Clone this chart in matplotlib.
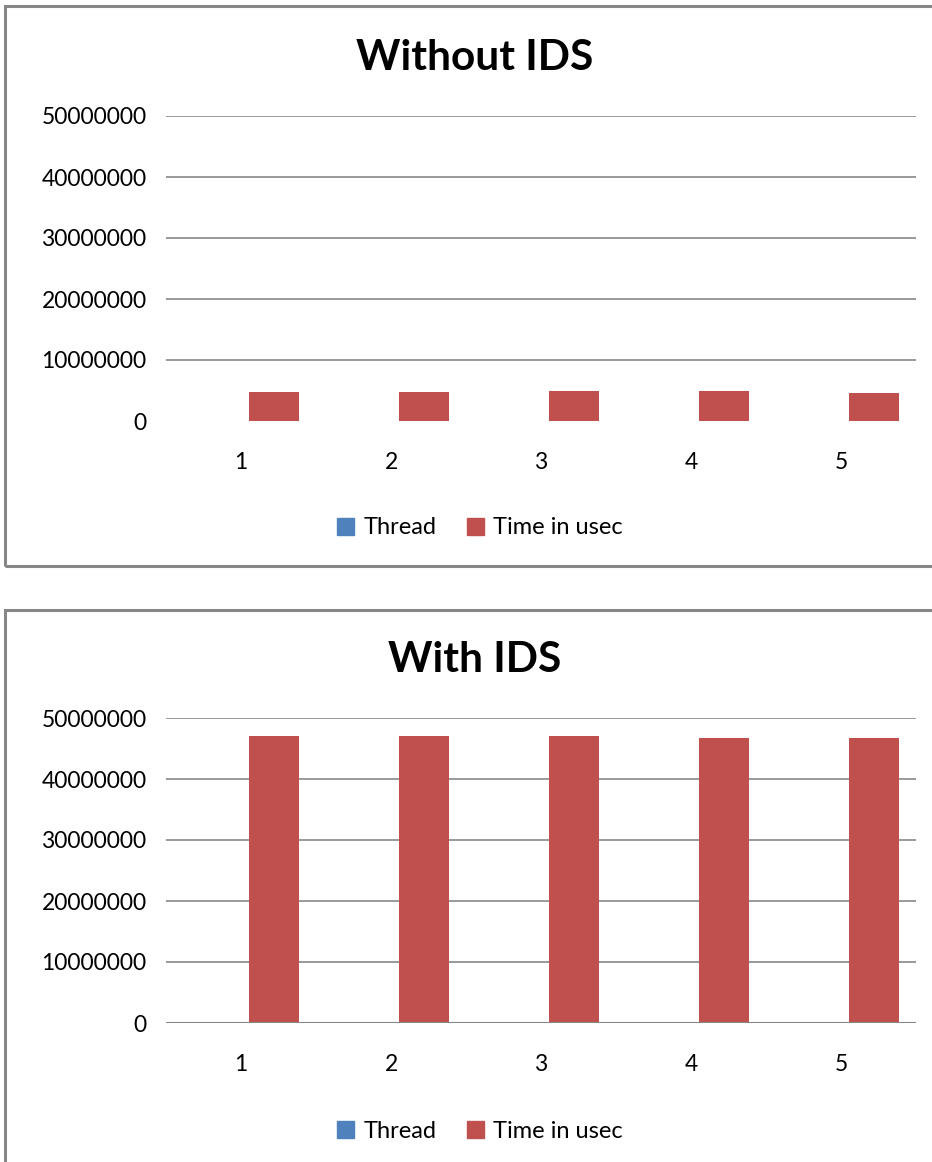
import matplotlib
matplotlib.use("Agg")
import matplotlib.pyplot as plt
from matplotlib.patches import Rectangle, Patch
import numpy as np

plt.rcParams['font.family'] = ['Lato', 'DejaVu Sans']

categories = ['1', '2', '3', '4', '5']
thread = [1, 2, 3, 4, 5]
time_without = [4750000, 4750000, 4850000, 4900000, 4600000]
time_with = [47100000, 47100000, 47100000, 46800000, 46800000]
yticks = [0, 10000000, 20000000, 30000000, 40000000, 50000000]

BLUE = '#4F81BD'
RED = '#C0504D'
GRID = '#878787'

W, H = 932, 1162
fig = plt.figure(figsize=(W / 100, H / 100), dpi=100)


def fx(px):
    return px / W


def fy(py):
    return 1 - py / H


# chart frames
for top, bottom in [(6, 566), (610, 1170)]:
    fig.patches.append(Rectangle((fx(5), fy(bottom)), fx(940) - fx(5), fy(top) - fy(bottom),
                                 transform=fig.transFigure, fill=False,
                                 edgecolor=GRID, linewidth=2.2))


def panel(ax_top, ax_bot, title, title_y, legend_y, values, zero_line):
    ax = fig.add_axes([fx(166), fy(ax_bot), fx(916) - fx(166), fy(ax_top) - fy(ax_bot)])
    x = np.arange(len(categories))
    w = 0.333
    ax.bar(x + 0.053, thread, width=-w, align='edge', color=BLUE)
    ax.bar(x + 0.053, values, width=w, align='edge', color=RED)
    ax.set_xlim(-0.5, len(categories) - 0.5)
    ax.set_ylim(0, 50000000)
    ax.set_yticks(yticks)
    ax.set_yticklabels([str(v) for v in yticks])
    ax.set_xticks(x)
    ax.set_xticklabels(categories)
    for v in yticks[1:]:
        ax.axhline(v, color=GRID, linewidth=1.2, zorder=0)
    if zero_line:
        ax.axhline(0, color=GRID, linewidth=1.5, zorder=3)
    for s in ax.spines.values():
        s.set_visible(False)
    ax.tick_params(axis='both', length=0, labelsize=16.5, colors='black')
    ax.tick_params(axis='y', pad=14)
    ax.tick_params(axis='x', pad=22)
    fig.text(fx(475), fy(title_y), title, ha='center', va='center',
             fontsize=30.5, fontweight='bold')
    handles = [Patch(color=BLUE, label='Thread'), Patch(color=RED, label='Time in usec')]
    fig.legend(handles=handles, loc='center', bbox_to_anchor=(fx(480), fy(legend_y)),
               ncol=2, frameon=False, fontsize=17, handlelength=0.7, handleheight=0.7,
               handletextpad=0.4, columnspacing=1.3)


panel(116, 421, 'Without IDS', 58, 528, time_without, False)
panel(718, 1023, 'With IDS', 660, 1131, time_with, True)

fig.savefig('out.png', dpi=100, facecolor='white')
